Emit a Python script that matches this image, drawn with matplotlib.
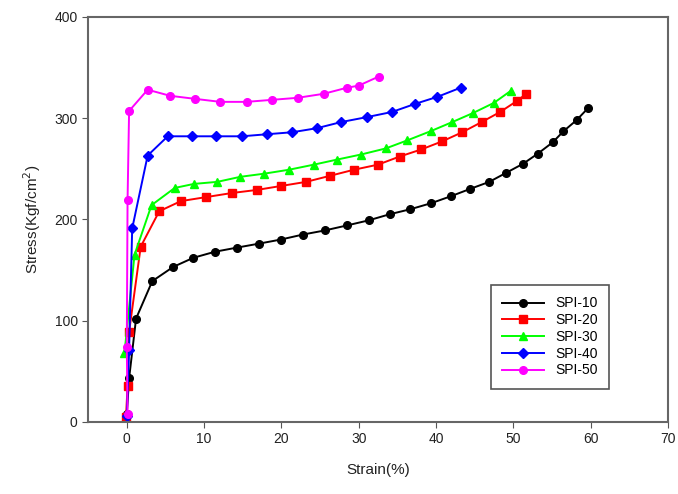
import matplotlib.pyplot as plt

plt.rcParams["font.family"] = ["Liberation Sans", "DejaVu Sans"]

# strain (%) and stress (Kgf/cm^2) per sample
spi10_x = [0.0, 0.3, 1.2, 3.3, 6.0, 8.6, 11.4, 14.2, 17.1, 19.9, 22.8, 25.6, 28.5, 31.3,
           34.0, 36.7, 39.4, 42.0, 44.4, 46.9, 49.1, 51.3, 53.2, 55.1, 56.5, 58.2, 59.7]
spi10_y = [8, 43, 102, 139, 153, 162, 168, 172, 176, 180, 185, 189, 194, 199,
           205, 210, 216, 223, 230, 237, 246, 255, 265, 276, 287, 298, 310]

spi20_x = [-0.1, 0.1, 0.3, 1.8, 4.2, 7.0, 10.3, 13.6, 16.8, 20.0, 23.2, 26.3, 29.4,
           32.5, 35.3, 38.1, 40.8, 43.4, 45.9, 48.3, 50.5, 51.7]
spi20_y = [5, 35, 89, 173, 208, 218, 222, 226, 229, 233, 237, 243, 249,
           254, 262, 269, 277, 286, 296, 306, 317, 324]

spi30_x = [-0.3, 1.0, 3.2, 6.2, 8.7, 11.7, 14.7, 17.7, 21.0, 24.2, 27.2, 30.3,
           33.5, 36.3, 39.3, 42.1, 44.8, 47.5, 49.7]
spi30_y = [68, 165, 214, 231, 235, 237, 242, 245, 249, 254, 259, 264,
           270, 278, 287, 296, 305, 315, 327]

spi40_x = [0.0, 0.3, 0.7, 2.7, 5.3, 8.5, 11.6, 14.9, 18.1, 21.4, 24.6, 27.7,
           31.1, 34.3, 37.3, 40.2, 43.2]
spi40_y = [6, 71, 191, 263, 282, 282, 282, 282, 284, 286, 290, 296,
           301, 306, 314, 321, 330]

spi50_x = [0.1, 0.0, 0.1, 0.3, 2.7, 5.6, 8.8, 12.1, 15.5, 18.8, 22.1, 25.5,
           28.5, 30.0, 32.6]
spi50_y = [8, 74, 219, 307, 328, 322, 319, 316, 316, 318, 320, 324,
           330, 332, 341]

series = [
    ("SPI-10", spi10_x, spi10_y, "black", "o"),
    ("SPI-20", spi20_x, spi20_y, "red", "s"),
    ("SPI-30", spi30_x, spi30_y, "lime", "^"),
    ("SPI-40", spi40_x, spi40_y, "blue", "D"),
    ("SPI-50", spi50_x, spi50_y, "magenta", "o"),
]

fig = plt.figure(figsize=(6.78, 4.94), dpi=100)
ax = fig.add_axes([0.130, 0.146, 0.855, 0.820])

for name, xs, ys, color, marker in series:
    ms = 4.8 if marker == "D" else 5.5
    ax.plot(xs, ys, color=color, marker=marker, markersize=ms, linewidth=1.4, label=name)

ax.set_xlim(-5, 70)
ax.set_ylim(0, 400)
ax.set_xticks(range(0, 71, 10))
ax.set_yticks(range(0, 401, 100))
ax.set_xlabel("Strain(%)", fontsize=11, color="#222222", labelpad=12)
ax.set_ylabel("Stress(Kgf/cm$^2$)", fontsize=11, color="#222222", labelpad=8)
ax.tick_params(direction="out", length=4, colors="#555555", labelcolor="#222222", labelsize=10)
for sp in ax.spines.values():
    sp.set_color("#666666")
    sp.set_linewidth(1.5)

leg = ax.legend(loc="lower right", bbox_to_anchor=(0.91, 0.065), fancybox=False,
                edgecolor="#555555", fontsize=10, handlelength=3, labelspacing=0.2,
                borderpad=0.8, framealpha=1)
leg.get_frame().set_linewidth(1.2)

fig.savefig("out.png", dpi=100)
